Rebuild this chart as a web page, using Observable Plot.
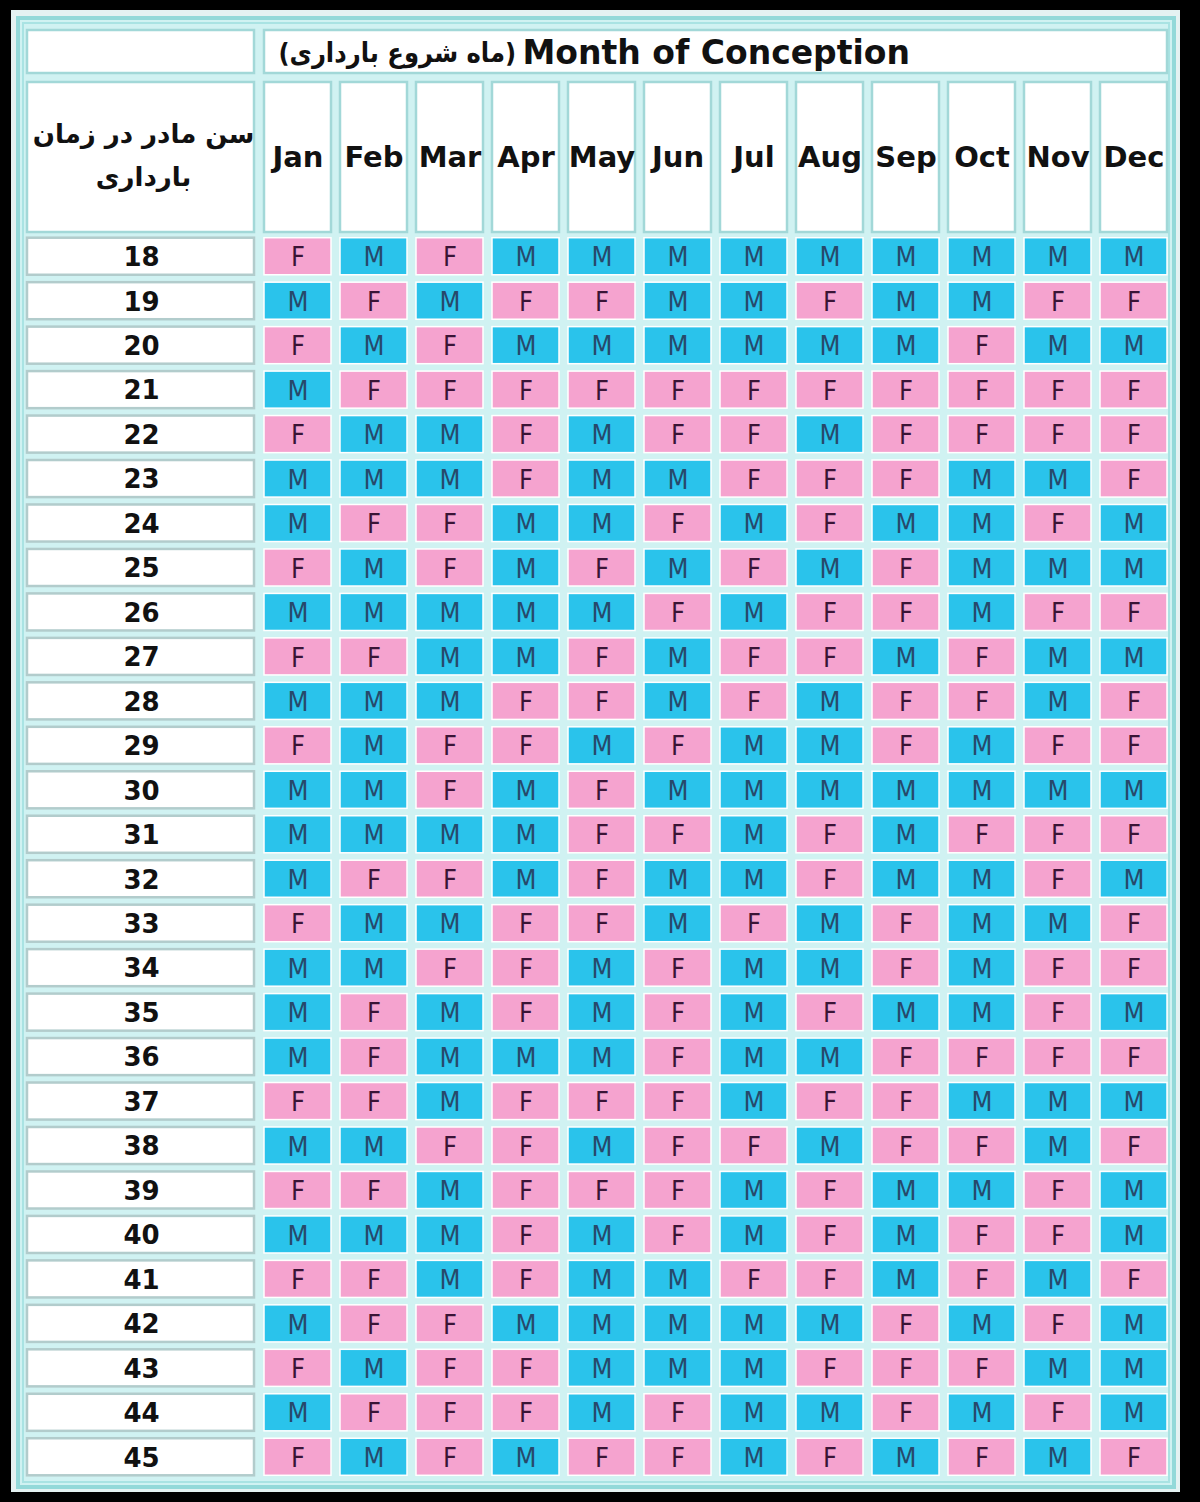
<!DOCTYPE html>
<html>
<head>
<meta charset="utf-8">
<script src="https://cdn.jsdelivr.net/npm/d3@7"></script>
<script src="https://cdn.jsdelivr.net/npm/@observablehq/plot@0.6"></script>
<style>
  html, body { margin: 0; padding: 0; background: #000; }
  #wrap { position: relative; width: 1200px; height: 1502px; background: #000; overflow: hidden; }
  #rim { position: absolute; left: 11px; top: 10px; width: 1169px; height: 1482px; background: #e4f2f2; }
  #chart { position: absolute; left: 0; top: 0; }
</style>
</head>
<body>
<div id="wrap"><div id="rim"></div><div id="chart"></div></div>
<script>
// ---- data ----
const months = ["Jan","Feb","Mar","Apr","May","Jun","Jul","Aug","Sep","Oct","Nov","Dec"];
const ages = [18,19,20,21,22,23,24,25,26,27,28,29,30,31,32,33,34,35,36,37,38,39,40,41,42,43,44,45];
// predicted sex per age (row) for each month Jan..Dec
const sexByAge = [
  "F M F M M M M M M M M M", // 18
  "M F M F F M M F M M F F", // 19
  "F M F M M M M M M F M M", // 20
  "M F F F F F F F F F F F", // 21
  "F M M F M F F M F F F F", // 22
  "M M M F M M F F F M M F", // 23
  "M F F M M F M F M M F M", // 24
  "F M F M F M F M F M M M", // 25
  "M M M M M F M F F M F F", // 26
  "F F M M F M F F M F M M", // 27
  "M M M F F M F M F F M F", // 28
  "F M F F M F M M F M F F", // 29
  "M M F M F M M M M M M M", // 30
  "M M M M F F M F M F F F", // 31
  "M F F M F M M F M M F M", // 32
  "F M M F F M F M F M M F", // 33
  "M M F F M F M M F M F F", // 34
  "M F M F M F M F M M F M", // 35
  "M F M M M F M M F F F F", // 36
  "F F M F F F M F F M M M", // 37
  "M M F F M F F M F F M F", // 38
  "F F M F F F M F M M F M", // 39
  "M M M F M F M F M F F M", // 40
  "F F M F M M F F M F M F", // 41
  "M F F M M M M M F M F M", // 42
  "F M F F M M M F F F M M", // 43
  "M F F F M F M M F M F M", // 44
  "F M F M F F M F M F M F"  // 45
];
const sexes = ["M", "F"];
const sexColors = ["#2ac3eb", "#f5a3cf"];
const letterColors = ["#27496b", "#3a1436"];
const titleFa = "\u200E(ماه شروع بارداری)\u200E";
const titleEn = "Month of Conception";
const ageHeader = "سن مادر در زمان\nبارداری";

const cells = ages.flatMap((age, i) =>
  sexByAge[i].split(" ").map((s, j) => ({age, month: months[j], sex: s}))
);

// ---- layout ----
const W = 1200, H = 1502;
const mL = 259.5, mR = 28.5, mT = 234, mB = 23;
const insX = 4.5, insY = 3.7;
const tableL = 18, tableT = 18, tableR = 1174, tableB = 1487;
const ageBoxL = 27, ageBoxR = 254;
const titleTop = 30, titleBot = 73, headTop = 82, headBot = 232;
const boxStroke = "#a2d8d8";

function structure(index, scales, values, dims) {
  const x = scales.x, y = scales.y;
  const bx = x.bandwidth ? x.bandwidth() : x(months[1]) - x(months[0]);
  const by = y.bandwidth ? y.bandwidth() : y(ages[1]) - y(ages[0]);
  const g = d3.create("svg:g");
  // table border + background
  g.append("rect").attr("x", tableL).attr("y", tableT)
    .attr("width", tableR - tableL).attr("height", tableB - tableT)
    .attr("fill", "#d0f2f2").attr("stroke", "#93d9d9").attr("stroke-width", 4);
  g.append("rect").attr("x", tableL + 5).attr("y", tableT + 5)
    .attr("width", tableR - tableL - 10).attr("height", tableB - tableT - 10)
    .attr("fill", "none").attr("stroke", "#a9e3e3").attr("stroke-width", 2);
  const box = (x0, y0, x1, y1, stroke) => g.append("rect")
    .attr("x", x0).attr("y", y0).attr("width", x1 - x0).attr("height", y1 - y0)
    .attr("fill", "#fff").attr("stroke", stroke).attr("stroke-width", 2.5);
  const gridL = x(months[0]) + insX, gridR = x(months[months.length - 1]) + bx - insX;
  box(ageBoxL, titleTop, ageBoxR, titleBot, boxStroke);
  box(gridL, titleTop, gridR, titleBot, boxStroke);
  box(ageBoxL, headTop, ageBoxR, headBot, boxStroke);
  for (const m of months) box(x(m) + insX, headTop, x(m) + bx - insX, headBot, boxStroke);
  for (const a of ages) box(ageBoxL, y(a) + insY, ageBoxR, y(a) + by - insY, "#b2cccc");
  return g.node();
}

const chart = Plot.plot({
  width: W, height: H,
  marginLeft: mL, marginRight: mR, marginTop: mT, marginBottom: mB,
  x: {domain: months, padding: 0, round: false, axis: null},
  y: {domain: ages, padding: 0, round: false, axis: null},
  color: {domain: sexes, range: sexColors},
  style: {background: "transparent", overflow: "visible"},
  marks: [
    structure,
    Plot.cell(cells, {
      x: "month", y: "age", fill: "sex",
      insetLeft: insX, insetRight: insX, insetTop: insY, insetBottom: insY,
      stroke: "#ffffff", strokeWidth: 1.5
    }),
    Plot.text(cells, {
      x: "month", y: "age", text: "sex",
      fill: d => letterColors[sexes.indexOf(d.sex)],
      fontSize: 27, fontFamily: "DejaVu Sans Condensed, DejaVu Sans, sans-serif",
      fontWeight: "normal", dy: 1
    }),
    Plot.axisY({
      ticks: ages, label: null, tickSize: 0, tickPadding: 0,
      textAnchor: "middle", dx: 141 - mL, dy: 1,
      fontSize: 26, fontWeight: "bold", fill: "#111",
      fontFamily: "DejaVu Sans, Verdana, sans-serif"
    }),
    Plot.axisX({
      anchor: "top", label: null, tickSize: 0, tickPadding: 0,
      lineAnchor: "middle", dy: 157 - mT,
      fontSize: 29, fontWeight: "bold", fill: "#111",
      fontFamily: "DejaVu Sans, Verdana, sans-serif"
    }),
    Plot.text([titleFa], {
      frameAnchor: "top-left", text: d => d, textAnchor: "start", lineAnchor: "middle",
      dx: 278 - mL, dy: 53 - mT,
      fontSize: 27, fontWeight: "bold", fill: "#111",
      fontFamily: "DejaVu Sans Condensed, DejaVu Sans, sans-serif"
    }),
    Plot.text([titleEn], {
      frameAnchor: "top-left", text: d => d, textAnchor: "start", lineAnchor: "middle",
      dx: 522 - mL, dy: 53 - mT,
      fontSize: 33, fontWeight: "bold", fill: "#111",
      fontFamily: "DejaVu Sans, sans-serif"
    }),
    Plot.text([ageHeader], {
      frameAnchor: "top-left", text: d => d, textAnchor: "middle", lineAnchor: "middle",
      dx: 143 - mL, dy: 150 - mT, lineHeight: 1.65,
      fontSize: 26, fontWeight: "bold", fill: "#111",
      fontFamily: "DejaVu Sans, sans-serif"
    })
  ]
});
document.getElementById("chart").appendChild(chart);
</script>
</body>
</html>
